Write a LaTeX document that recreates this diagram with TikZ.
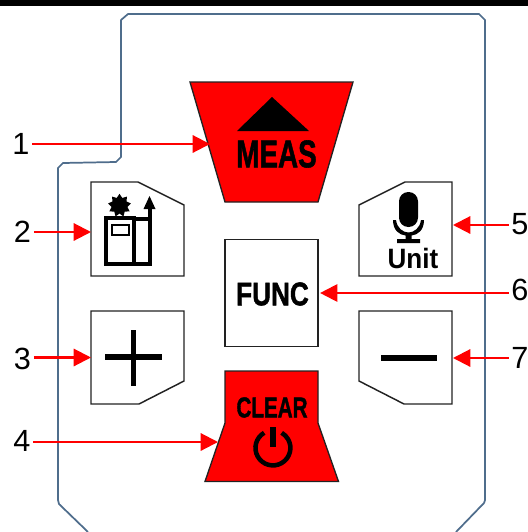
\documentclass[tikz,border=0pt]{standalone}
\usepackage{fontspec}
\setmainfont{Liberation Sans}
\newfontfamily\heavyfont[BoldFont={Liberation Sans Bold},BoldFeatures={FakeBold=1.6}]{Liberation Sans}
\usetikzlibrary{arrows.meta,shapes.geometric}
\definecolor{shell}{HTML}{4F6D8C}
\definecolor{keyline}{HTML}{222222}
\tikzset{
  shellline/.style={draw=shell,line width=1.3pt,line join=round},
  keyplain/.style={draw=keyline,line width=1.1pt,fill=white,line join=miter},
  keyred/.style={draw=keyline,line width=1pt,fill=red,line join=miter},
  numlabel/.style={inner sep=0pt,font=\fontsize{23}{23}\selectfont},
  callout/.style={draw=red,line width=1.6pt,-{Triangle[length=13pt,width=13pt]},shorten <=2pt},
  keytext/.style={inner sep=0pt,font=\fontsize{29}{29}\selectfont\heavyfont\bfseries},
  glyphline/.style={draw=black,line width=3pt},
}
\begin{document}
\begin{tikzpicture}[x=0.75pt,y=-0.75pt]
\useasboundingbox (0,0) rectangle (528,532);
\fill[black] (0,0) rectangle (528,6);
% housing
\draw[shellline] (88,532) -- (59,504) -- (58,500) -- (58,168) -- (63,163) -- (116,162) -- (121,157) -- (121,20) -- (128,14) -- (479,14) -- (485,20) -- (485,500) -- (484,503) -- (456,532);
% MEAS key
\draw[keyred] (190,82) -- (353,82) -- (318,202) -- (225,202) -- cycle;
\fill[black] (272,97) -- (309,131) -- (237,131) -- cycle;
\node[keytext,xscale=.72] (meas) at (276.5,154) {MEAS};
\coordinate (k1) at (210,144);
% key 2
\draw[keyplain] (91,182) -- (138,182) -- (184,205) -- (184,276) -- (91,276) -- cycle;
\coordinate (k2) at (91,232);
\draw[glyphline] (105.5,218) rectangle (134,264);
\draw[draw=black,line width=2pt] (112,225) rectangle (129,235);
\draw[glyphline] (136,264) -- (149.5,264) -- (149.5,206);
\draw[glyphline] (135,218.5) -- (149.5,218.5);
\fill[black] (149.5,196) -- (155.5,209) -- (143.5,209) -- cycle;
\node[star,star points=9,star point ratio=1.45,fill=black,inner sep=0pt,minimum size=17.5pt] (gear) at (119.5,205.5) {};
% key 3
\draw[keyplain] (91,311) -- (184,311) -- (184,381) -- (139,404) -- (91,404) -- cycle;
\coordinate (k3) at (91,357.5);
\draw[glyphline,line width=4pt] (105,357) -- (162,357);
\draw[glyphline,line width=4pt] (133.5,330) -- (133.5,386);
% FUNC key
\node[draw=keyline,line width=1.1pt,fill=white,minimum width=69.75pt,minimum height=80pt,inner sep=0pt] (func) at (271.5,293) {};
\node[keytext,font=\fontsize{24.5}{24.5}\selectfont\heavyfont\bfseries,xscale=.8] (functext) at (272.5,294) {FUNC};
% CLEAR key
\draw[keyred] (225,371) -- (318,371) -- (318,423) -- (338.5,481.5) -- (205,481.5) -- (225,423) -- cycle;
\node[keytext,font=\fontsize{21.5}{21.5}\selectfont\heavyfont\bfseries,xscale=.72] (clear) at (272,407.5) {CLEAR};
\draw[black,line width=3.4pt] (264.2,432.8) arc[start angle=120,end angle=420,radius=13.1pt];
\draw[black,line width=4pt] (273,427) -- (273,447);
\coordinate (k4) at (218,442);
% key 5
\draw[keyplain] (359,205) -- (405,182) -- (452,182) -- (452,276) -- (359,276) -- cycle;
\coordinate (k5) at (453,225);
\fill[black,rounded corners=7pt] (399,192) rectangle (418,227);
\fill[black] (393,220) .. controls (393,231) and (400,235) .. (405.5,235.5) -- (405.5,239) -- (397,239) -- (397,243) -- (420,243) -- (420,239) -- (411.5,239) -- (411.5,235.5) .. controls (417,235) and (424,231) .. (424,220) -- (421,220) .. controls (420,228) and (414,232.5) .. (408.5,232.5) .. controls (403,232.5) and (397,228) .. (396,220) -- cycle;
\node[inner sep=0pt,font=\fontsize{21}{21}\selectfont\bfseries,xscale=.93] (unit) at (413,258) {Unit};
% key 7
\draw[keyplain] (359,311) -- (452,311) -- (452,404) -- (404,404) -- (359,381) -- cycle;
\coordinate (k7) at (453,358);
\draw[glyphline,line width=4pt] (381,358) -- (437,358);
% labels
\node[numlabel] (l1) at (21,144) {1};
\node[numlabel] (l2) at (22.5,232) {2};
\node[numlabel] (l3) at (22.5,359) {3};
\node[numlabel] (l4) at (22,441) {4};
\node[numlabel] (l5) at (520,224) {5};
\node[numlabel] (l6) at (520,290) {6};
\node[numlabel] (l7) at (520,358) {7};
% connectors
\draw[callout] (l1.east|-k1) -- (k1);
\draw[callout] (l2.east|-k2) -- (k2);
\draw[callout] (l3.east|-k3) -- (k3);
\draw[callout] (l4.east|-k4) -- (k4);
\draw[callout] (l5.west|-k5) -- (k5);
\draw[callout] (l6.west|-func.east) -- ([xshift=1pt]func.east);
\draw[callout] (l7.west|-k7) -- (k7);
\end{tikzpicture}
\end{document}
